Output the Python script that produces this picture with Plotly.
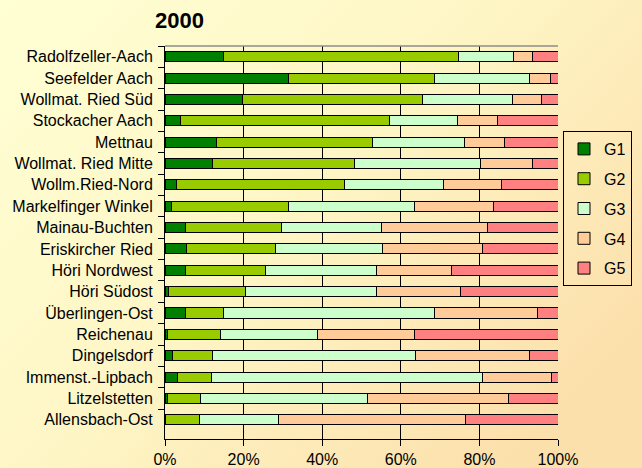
import base64
import plotly.graph_objects as go

categories = ["Radolfzeller-Aach", "Seefelder Aach", "Wollmat. Ried Süd", "Stockacher Aach",
              "Mettnau", "Wollmat. Ried Mitte", "Wollm.Ried-Nord", "Markelfinger Winkel",
              "Mainau-Buchten", "Eriskircher Ried", "Höri Nordwest", "Höri Südost",
              "Überlingen-Ost", "Reichenau", "Dingelsdorf", "Immenst.-Lipbach",
              "Litzelstetten", "Allensbach-Ost"]

G1 = [15.0, 31.3, 19.8, 4.0, 13.0, 12.0, 3.0, 1.7, 5.3, 5.5, 5.3, 1.0, 5.3, 0.6, 1.9, 3.2, 0.6, 0.0]
G2 = [59.6, 37.4, 45.6, 53.0, 39.7, 36.2, 42.6, 29.6, 24.4, 22.6, 20.2, 19.6, 9.7, 13.4, 10.1, 8.6, 8.5, 8.7]
G3 = [14.0, 24.1, 22.9, 17.3, 23.5, 32.2, 25.2, 32.3, 25.4, 27.2, 28.3, 33.2, 53.7, 24.8, 51.8, 69.0, 42.3, 20.3]
G4 = [5.0, 5.3, 7.5, 10.4, 10.1, 13.1, 14.8, 19.9, 27.0, 25.5, 19.2, 21.5, 26.0, 24.8, 29.0, 17.5, 36.1, 47.5]
G5 = [6.4, 1.9, 4.2, 15.3, 13.7, 6.5, 14.4, 16.5, 17.9, 19.2, 27.0, 24.7, 5.3, 36.4, 7.2, 1.7, 12.5, 23.5]

series_names = ["G1", "G2", "G3", "G4", "G5"]
series_values = [G1, G2, G3, G4, G5]
series_colors = ["#008000", "#99CC00", "#CCFFCC", "#FFCC99", "#FF8080"]

x_tickvals = [0, 20, 40, 60, 80, 100]
x_ticktext = ["0%", "20%", "40%", "60%", "80%", "100%"]

W, H = 642, 468
L, R, T, B = 165, 84, 46, 29
PW, PH = W - L - R, H - T - B

fig = go.Figure()
for name, vals, col in zip(series_names, series_values, series_colors):
    fig.add_trace(go.Bar(
        y=categories, x=vals, name=name, orientation="h",
        marker=dict(color=col, line=dict(color="#000000", width=1)),
        legendgroup=name,
    ))

svg = ("<svg xmlns='http://www.w3.org/2000/svg' width='642' height='468' preserveAspectRatio='none'>"
       "<defs><linearGradient id='g' x1='0' y1='0' x2='1' y2='0.7'>"
       "<stop offset='0' stop-color='#FFFFD4'/><stop offset='0.5' stop-color='#FEF6C6'/>"
       "<stop offset='1' stop-color='#FCE0AC'/></linearGradient></defs>"
       "<rect width='642' height='468' fill='url(#g)'/></svg>")
src = "data:image/svg+xml;base64," + base64.b64encode(svg.encode()).decode()

fig.update_layout(
    width=W, height=H,
    margin=dict(l=L, r=R, t=T, b=B, pad=0, autoexpand=False),
    barmode="stack", barnorm="percent", bargap=0.53,
    paper_bgcolor="#FEF3C4", plot_bgcolor="rgba(0,0,0,0)",
    font=dict(family="Liberation Sans, Arial, sans-serif", size=16, color="#000000"),
    title=dict(text="<b>2000</b>", x=155 / W, xanchor="left", xref="container",
               y=1 - 20 / H, yanchor="middle", yref="container",
               font=dict(size=22, color="#000000")),
    xaxis=dict(range=[0, 100], tickvals=x_tickvals, ticktext=x_ticktext,
               showgrid=True, gridcolor="#000000", gridwidth=1, zeroline=False,
               showline=True, linecolor="#000000", linewidth=1,
               ticks="outside", ticklen=6, tickcolor="#000000", automargin=False,
               tickfont=dict(size=16)),
    yaxis=dict(categoryorder="array", categoryarray=categories,
               range=[17.9, -0.5], showgrid=False, zeroline=False,
               showline=True, linecolor="#000000", linewidth=1,
               ticks="outside", ticklen=6, tickcolor="#000000", tickson="boundaries",
               ticklabelstandoff=8, automargin=False, tickfont=dict(size=16)),
    legend=dict(x=(632 - L) / PW, xanchor="right", y=1 - (131 - T) / PH, yanchor="top",
                bgcolor="rgba(0,0,0,0)", bordercolor="#000000", borderwidth=1,
                font=dict(size=16), traceorder="grouped", tracegroupgap=6,
                itemwidth=30),
    images=[dict(source=src, xref="paper", yref="paper",
                 x=-L / PW, y=1 + T / PH, sizex=W / PW, sizey=H / PH,
                 xanchor="left", yanchor="top", sizing="stretch", layer="below")],
    shapes=[dict(type="line", xref="paper", yref="paper", x0=0, x1=1, y0=1, y1=1,
                 line=dict(color="#8C8C8C", width=1.5))],
)

fig.write_html("out.html", config={"displayModeBar": False},
               post_script="document.body.style.margin='0';")
